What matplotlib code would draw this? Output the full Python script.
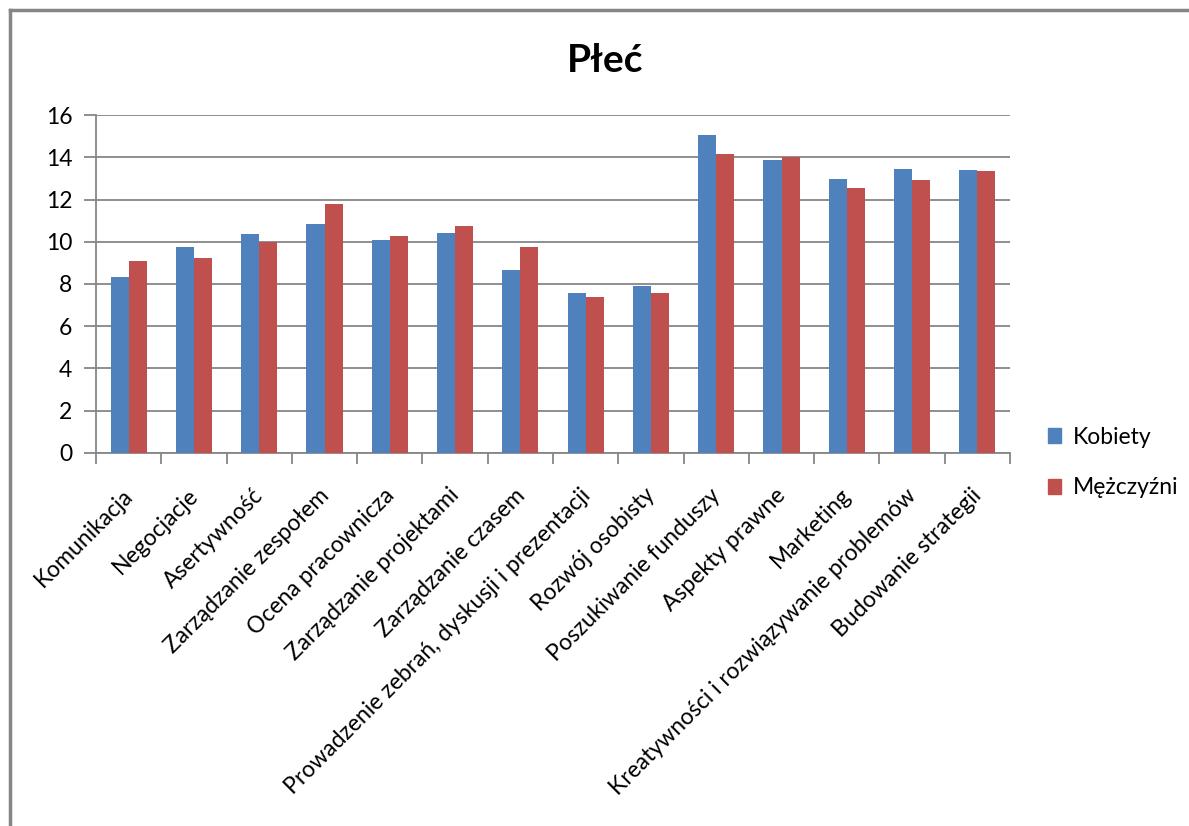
import matplotlib
matplotlib.use("Agg")
import matplotlib.pyplot as plt
import numpy as np
from matplotlib.lines import Line2D
from matplotlib.transforms import offset_copy

categories = ["Komunikacja", "Negocjacje", "Asertywność", "Zarządzanie zespołem",
              "Ocena pracownicza", "Zarządzanie projektami", "Zarządzanie czasem",
              "Prowadzenie zebrań, dyskusji i prezentacji", "Rozwój osobisty",
              "Poszukiwanie funduszy", "Aspekty prawne", "Marketing",
              "Kreatywności i rozwiązywanie problemów", "Budowanie strategii"]
kobiety = [8.33, 9.75, 10.36, 10.84, 10.08, 10.41, 8.66, 7.57, 7.90, 15.07, 13.87, 12.97, 13.44, 13.40]
mezczyzni = [9.08, 9.23, 9.98, 11.79, 10.27, 10.74, 9.75, 7.38, 7.57, 14.15, 14.00, 12.54, 12.92, 13.35]
series_names = ["Kobiety", "Mężczyźni"]
yticks = [0, 2, 4, 6, 8, 10, 12, 14, 16]
title = "Płeć"

plt.rcParams['font.family'] = ['Lato', 'DejaVu Sans']

W, H = 1189, 826
fig = plt.figure(figsize=(W / 100, H / 100), dpi=100)
ax = fig.add_axes([96 / W, 1 - 453 / H, (1010 - 96) / W, (453 - 115) / H])

gray = "#868686"
blue = "#4F81BD"
red = "#C0504D"

n = len(categories)
x = np.arange(n)
bw = 0.276
ax.bar(x - bw / 2, kobiety, bw, color=blue, label=series_names[0], zorder=3)
ax.bar(x + bw / 2, mezczyzni, bw, color=red, label=series_names[1], zorder=3)

ax.set_xlim(-0.5, n - 0.5)
ax.set_ylim(0, 16)
ax.set_yticks(yticks)
ax.set_yticklabels([str(v) for v in yticks], fontsize=16.5)
ax.yaxis.grid(True, color=gray, linewidth=1.3, zorder=0)
ax.set_axisbelow(True)

ax.set_xticks(np.arange(-0.5, n, 1.0))
ax.set_xticklabels([])
ax.tick_params(axis='x', direction='out', length=8, width=1.3, color=gray)
ax.tick_params(axis='y', direction='out', length=9, width=1.3, color=gray, pad=8)

for s in ['top', 'right']:
    ax.spines[s].set_visible(False)
for s in ['left', 'bottom']:
    ax.spines[s].set_color(gray)
    ax.spines[s].set_linewidth(1.3)

trans = offset_copy(ax.get_xaxis_transform(), fig=fig, x=1, y=-39, units='dots')
for i, lab in enumerate(categories):
    ax.text(i, 0, lab, transform=trans, rotation=45, rotation_mode='anchor',
            ha='right', va='center', fontsize=16.5, color='black')

fig.text(605 / W, 1 - 60 / H, title, ha='center', va='center', fontsize=28, fontweight='bold')

handles = [plt.Rectangle((0, 0), 1, 1, color=blue), plt.Rectangle((0, 0), 1, 1, color=red)]
leg = fig.legend(handles, series_names, loc='upper left', bbox_to_anchor=(1027 / W, 1 - 406 / H),
                 frameon=False, fontsize=16.5, handlelength=0.6, handleheight=0.6,
                 handletextpad=0.5, labelspacing=1.3)

fig.add_artist(Line2D([10 / W, 10 / W], [0, 1 - 10 / H], transform=fig.transFigure, color=gray, linewidth=2.5))
fig.add_artist(Line2D([10 / W, 1], [1 - 10 / H, 1 - 10 / H], transform=fig.transFigure, color=gray, linewidth=2.5))

fig.savefig("out.png", dpi=100)
